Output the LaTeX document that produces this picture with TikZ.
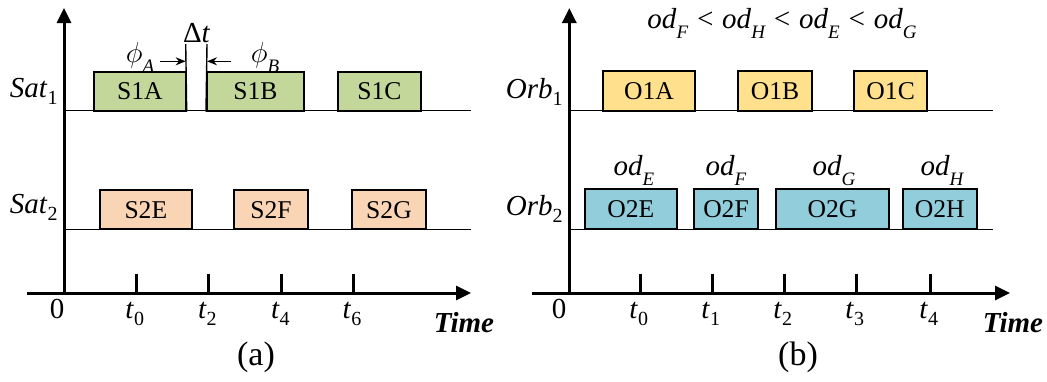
\documentclass[tikz,border=0pt]{standalone}
\usepackage{fontspec}
\setmainfont{Liberation Serif}
\usetikzlibrary{arrows.meta}
\definecolor{cgreen}{RGB}{196,215,155}
\definecolor{corange}{RGB}{250,213,181}
\definecolor{cyellow}{RGB}{255,224,140}
\definecolor{cblue}{RGB}{146,205,220}
\newcommand{\sbs}[1]{\raisebox{-3.5pt}{\fontsize{10}{10}\selectfont #1}}
\newcommand{\sbo}[1]{\raisebox{-5pt}{\fontsize{9.5}{9.5}\selectfont\itshape #1}}
\begin{document}
\begin{tikzpicture}[x=0.5pt,y=-0.5pt,
  box/.style={draw=black, line width=1pt, inner sep=0pt, font=\fontsize{12.8}{12.8}\selectfont},
  axis/.style={line width=1.5pt, -{Triangle[length=7.5pt,width=7pt]}},
  track/.style={line width=0.7pt},
  tickm/.style={line width=1.5pt},
  lab/.style={font=\fontsize{14.5}{14.5}\selectfont, inner sep=0pt},
  small/.style={-{Stealth[length=5pt,width=4pt]}, line width=0.7pt}]
\useasboundingbox (0,0) rectangle (1047,381);

% ---------------- panel (a) ----------------
\coordinate (a0) at (64,293);
\coordinate (atop) at (64,8);
\coordinate (aleft) at (27,293);
\coordinate (aright) at (471,293);
\coordinate (a1s) at (64,110.7);
\coordinate (a1e) at (470.7,110.7);
\coordinate (a2s) at (64,229.3);
\coordinate (a2e) at (470.7,229.3);
\draw[track] (a1s) -- (a1e);
\draw[track] (a2s) -- (a2e);

\node[box, fill=cgreen, minimum width=45.85pt, minimum height=19.5pt] (s1a) at (139.85,91.2) {S1A};
\node[box, fill=cgreen, minimum width=48.35pt, minimum height=19.5pt] (s1b) at (255.35,91.2) {S1B};
\node[box, fill=cgreen, minimum width=41.35pt, minimum height=19.5pt] (s1c) at (379.35,91.2) {S1C};
\node[box, fill=corange, minimum width=45.85pt, minimum height=19.65pt] (s2e) at (145.85,209.65) {S2E};
\node[box, fill=corange, minimum width=37pt, minimum height=19.65pt] (s2f) at (271,209.65) {S2F};
\node[box, fill=corange, minimum width=37pt, minimum height=19.65pt] (s2g) at (389,209.65) {S2G};

% Delta t
\coordinate (dl) at (185.7,44);
\coordinate (dr) at (207,44);
\draw[track] (dl) -- (s1a.south east);
\draw[track] (dr) -- (s1b.south west);
\node[lab, anchor=base] (dt) at (196.7,42) {Δ\textit{t}};
\coordinate (pa) at (160,61.3);
\coordinate (pb) at (231,61.3);
\draw[small] (pa) -- (pa -| dl);
\draw[small] (pb) -- (pb -| dr);
\node[lab, anchor=base] (phia) at (140,62) {\Large$\phi$\sbo{A}};
\node[lab, anchor=base] (phib) at (265,62) {\Large$\phi$\sbo{B}};

\draw[axis] (a0) -- (atop);
\draw[axis] (aleft) -- (aright);
\foreach \x/\n in {136/0,208.7/2,281.7/4,353.3/6}{
  \coordinate (at\n) at (\x,274.3);
  \draw[tickm] (at\n) -- (at\n |- a0);
  \node[lab, anchor=base west] (atl\n) at (\x-11,318) {\textit{t}\sbs{\n}};
}
\node[lab, anchor=base] (azero) at (57,318) {0};
\node[lab, anchor=base east] (sat1) at (58,97) {\textit{Sat}\sbs{1}};
\node[lab, anchor=base east] (sat2) at (58,213) {\textit{Sat}\sbs{2}};
\node[lab, anchor=base, font=\fontsize{14.5}{14.5}\selectfont\bfseries\itshape] (atime) at (464,332) {Time};
\node[lab, anchor=center, font=\fontsize{17}{17}\selectfont] (acap) at (256,357) {(a)};

% ---------------- panel (b) ----------------
\coordinate (b0) at (569.3,293);
\coordinate (btop) at (569.3,8);
\coordinate (bleft) at (531.7,293);
\coordinate (bright) at (1010,293);
\coordinate (b1s) at (569.3,110.7);
\coordinate (b1e) at (992.7,110.7);
\coordinate (b2s) at (569.3,229.3);
\coordinate (b2e) at (992.7,229.3);
\draw[track] (b1s) -- (b1e);
\draw[track] (b2s) -- (b2e);

\node[box, fill=cyellow, minimum width=45.7pt, minimum height=19.85pt] (o1a) at (649,90.85) {O1A};
\node[box, fill=cyellow, minimum width=36.7pt, minimum height=19.85pt] (o1b) at (775,90.85) {O1B};
\node[box, fill=cyellow, minimum width=36.65pt, minimum height=19.85pt] (o1c) at (890.65,90.85) {O1C};
\node[box, fill=cblue, minimum width=45.85pt, minimum height=20.15pt] (o2e) at (630.85,209.15) {O2E};
\node[box, fill=cblue, minimum width=32.3pt, minimum height=20.15pt] (o2f) at (726,209.15) {O2F};
\node[box, fill=cblue, minimum width=56.8pt, minimum height=20.15pt] (o2g) at (832.5,209.15) {O2G};
\node[box, fill=cblue, minimum width=37pt, minimum height=20.15pt] (o2h) at (939.7,209.15) {O2H};

\node[lab, anchor=base] (ode) at (634,175) {\textit{od}\sbo{E}};
\node[lab, anchor=base] (odf) at (726,175) {\textit{od}\sbo{F}};
\node[lab, anchor=base] (odg) at (834,175) {\textit{od}\sbo{G}};
\node[lab, anchor=base] (odh) at (942,175) {\textit{od}\sbo{H}};
\node[lab, anchor=base] (order) at (782,28) {\textit{od}\sbo{F} \textit{<} \textit{od}\sbo{H} \textit{<} \textit{od}\sbo{E} \textit{<} \textit{od}\sbo{G}};

\draw[axis] (b0) -- (btop);
\draw[axis] (bleft) -- (bright);
\foreach \x/\n in {640/0,712/1,784/2,856/3,930/4}{
  \coordinate (bt\n) at (\x,274.3);
  \draw[tickm] (bt\n) -- (bt\n |- b0);
  \node[lab, anchor=base west] (btl\n) at (\x-11,318) {\textit{t}\sbs{\n}};
}
\node[lab, anchor=base] (bzero) at (559,318) {0};
\node[lab, anchor=base east] (orb1) at (563,98) {\textit{Orb}\sbs{1}};
\node[lab, anchor=base east] (orb2) at (563,215) {\textit{Orb}\sbs{2}};
\node[lab, anchor=base, font=\fontsize{14.5}{14.5}\selectfont\bfseries\itshape] (btime) at (1013,332) {Time};
\node[lab, anchor=center, font=\fontsize{17}{17}\selectfont] (bcap) at (798,357) {(b)};
\end{tikzpicture}
\end{document}
